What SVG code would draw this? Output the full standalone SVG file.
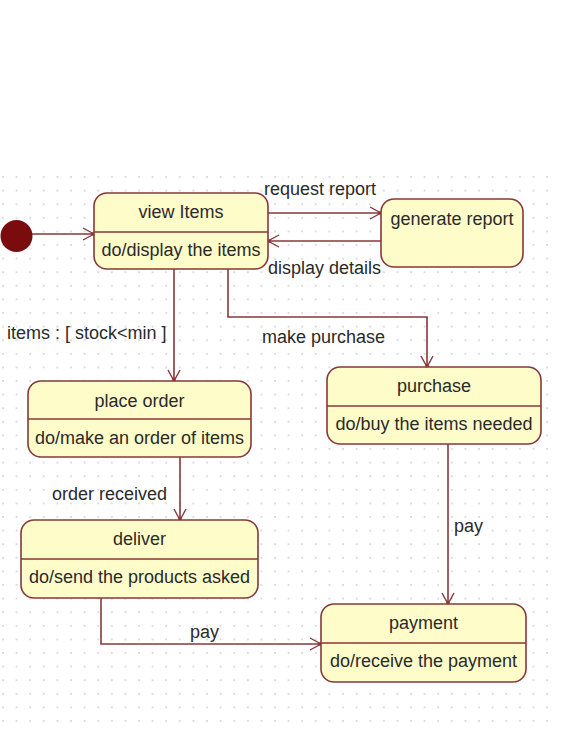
<svg xmlns="http://www.w3.org/2000/svg" width="567" height="748" viewBox="0 0 567 748">
<style>
.box{fill:#fefcc9;stroke:#86383a;stroke-width:1.6}
.div{stroke:#86383a;stroke-width:1.6}
.t{font-family:"Liberation Sans",Arial,sans-serif;font-size:18px;fill:#2a2a2a}
.c{text-anchor:middle}
.edge{fill:none;stroke:#86383a;stroke-width:1.6;marker-end:url(#arr)}
</style>
<defs>
<pattern id="grid" patternUnits="userSpaceOnUse" x="-3.8" y="170.2" width="13.6" height="13.6">
<circle cx="6.8" cy="6.8" r="1" fill="#d2d2d2"/>
</pattern>
<marker id="arr" markerUnits="userSpaceOnUse" viewBox="-14 -9 16 18" refX="0" refY="0" markerWidth="16" markerHeight="18" orient="auto">
<path d="M-11,-6 L0,0 L-11,6" fill="none" stroke="#86383a" stroke-width="1.4"/>
<circle cx="-1" cy="0" r="1.8" fill="#86383a"/>
</marker>
</defs>
<rect width="567" height="748" fill="#ffffff"/>
<rect x="0" y="170" width="554" height="559" fill="url(#grid)"/>

<g id="connectors">
<path class="edge" d="M32,234 H94"/>
<path class="edge" d="M268,213 H381"/>
<path class="edge" d="M381,241 H268"/>
<path class="edge" d="M174,269 V381"/>
<path class="edge" d="M228,269 V317 H427 V367"/>
<path class="edge" d="M180,457 V520"/>
<path class="edge" d="M448,444 V604"/>
<path class="edge" d="M101,598 V644 H321"/>
<text class="t" x="264" y="195">request report</text>
<text class="t" x="268" y="274">display details</text>
<text class="t" x="7" y="339">items : [ stock&lt;min ]</text>
<text class="t" x="262" y="343">make purchase</text>
<text class="t" x="52" y="500">order received</text>
<text class="t" x="454" y="532">pay</text>
<text class="t" x="190" y="638">pay</text>
</g>

<g id="initial">
<circle cx="16.5" cy="236" r="16" fill="#7a0c0e"/>
</g>

<g id="view-items">
<rect class="box" x="94" y="193" width="174" height="76" rx="13"/>
<line class="div" x1="94" y1="232" x2="268" y2="232"/>
<text class="t c" x="181" y="218">view Items</text>
<text class="t c" x="181" y="256">do/display the items</text>
</g>

<g id="generate-report">
<rect class="box" x="381" y="199" width="142" height="68" rx="13"/>
<text class="t c" x="452" y="225">generate report</text>
</g>

<g id="place-order">
<rect class="box" x="28" y="381" width="223" height="76" rx="13"/>
<line class="div" x1="28" y1="419" x2="251" y2="419"/>
<text class="t c" x="139.5" y="407">place order</text>
<text class="t c" x="139.5" y="444">do/make an order of items</text>
</g>

<g id="purchase">
<rect class="box" x="327" y="367" width="214" height="77" rx="13"/>
<line class="div" x1="327" y1="406" x2="541" y2="406"/>
<text class="t c" x="434" y="392">purchase</text>
<text class="t c" x="434" y="430">do/buy the items needed</text>
</g>

<g id="deliver">
<rect class="box" x="21" y="520" width="237" height="78" rx="13"/>
<line class="div" x1="21" y1="559" x2="258" y2="559"/>
<text class="t c" x="139.5" y="545">deliver</text>
<text class="t c" x="139.5" y="583">do/send the products asked</text>
</g>

<g id="payment">
<rect class="box" x="321" y="604" width="205" height="78" rx="13"/>
<line class="div" x1="321" y1="643" x2="526" y2="643"/>
<text class="t c" x="423.5" y="629">payment</text>
<text class="t c" x="423.5" y="667">do/receive the payment</text>
</g>
</svg>
